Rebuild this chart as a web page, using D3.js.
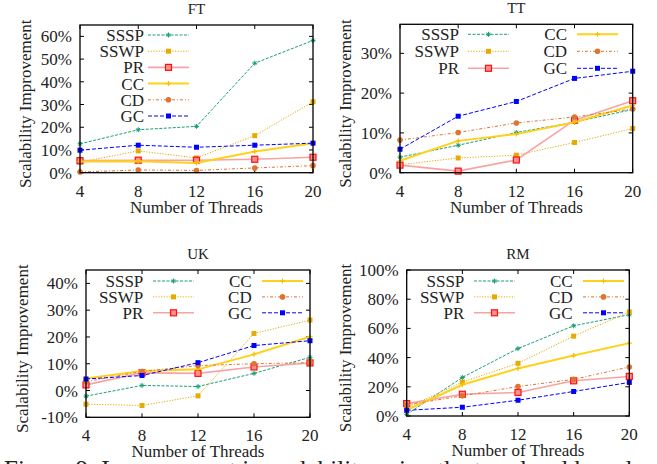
<!DOCTYPE html>
<html>
<head>
<meta charset="utf-8">
<script src="https://cdn.jsdelivr.net/npm/d3@7"></script>
<style>
body { margin: 0; overflow: hidden; background: #fff; }
svg text { font-family: "Liberation Serif", serif; fill: #222; }
</style>
</head>
<body>
<div id="chart"></div>
<script>
var width = 657,
	height = 464;

// data
var threads = [4, 8, 12, 16, 20];
var seriesNames = ['SSSP', 'SSWP', 'PR', 'CC', 'CD', 'GC'];

// values in %, series order as seriesNames
var ftValues = [
	[12.7, 18.9, 20.4, 48.2, 58.2],
	[4.6, 9.6, 6.5, 16.3, 31.2],
	[5.3, 5.5, 5.5, 5.9, 6.8],
	[4.9, 5.0, 4.3, 9.3, 13.0],
	[0.3, 1.2, 1.0, 2.1, 3.1],
	[9.9, 12.1, 11.2, 12.1, 13.0]
];
var ttValues = [
	[3.9, 6.9, 10.1, 12.7, 15.9],
	[2.0, 3.7, 4.4, 7.6, 11.1],
	[1.9, 0.4, 3.2, 13.2, 18.1],
	[3.0, 8.0, 9.7, 12.7, 16.9],
	[8.2, 10.1, 12.5, 14.0, 16.0],
	[5.9, 14.2, 17.9, 23.7, 25.5]
];
var ukValues = [
	[-2.1, 1.9, 1.5, 6.4, 12.4],
	[-5.1, -5.6, -2.0, 21.3, 26.3],
	[2.1, 6.6, 6.4, 8.8, 10.3],
	[4.5, 7.3, 7.9, 13.5, 20.1],
	[3.3, 7.1, 9.3, 10.0, 10.4],
	[4.3, 5.6, 10.4, 16.8, 18.6]
];
var rmValues = [
	[1.1, 26.4, 46.2, 61.8, 69.4],
	[5.7, 23.2, 36.1, 54.7, 71.3],
	[8.5, 14.9, 16.1, 24.1, 27.1],
	[4.1, 21.4, 32.6, 41.4, 49.9],
	[7.6, 13.8, 20.2, 25.1, 33.6],
	[3.9, 6.0, 10.8, 16.8, 23.0]
];

var ftTicks = [0, 10, 20, 30, 40, 50, 60];
var ttTicks = [0, 10, 20, 30];
var ukTicks = [-10, 0, 10, 20, 30, 40];
var rmTicks = [0, 20, 40, 60, 80, 100];

// styles per series
var styles = [
	{ color: '#1b9e77', dash: '3,1.5', w: 1, marker: 'star' },
	{ color: '#e6ab02', dash: '1.2,1.5', w: 1, marker: 'square' },
	{ color: '#f7a3a3', dash: null, w: 1.6, marker: 'opensquare' },
	{ color: '#ffd11a', dash: null, w: 2, marker: 'plus' },
	{ color: '#dd7530', dash: '3,2,1,2', w: 1, marker: 'circle' },
	{ color: '#0000ff', dash: '4,2', w: 1, marker: 'bsquare' }
];

var panels = [
	{ title: 'FT', values: ftValues, ticks: ftTicks, domain: [0, 65],
		x0: 80, x1: 313, y0: 25, y1: 172.7, ylab: 25, cols: 1,
		legX: [144], sampX: [148], legY: 35, legStep: 16.2 },
	{ title: 'TT', values: ttValues, ticks: ttTicks, domain: [0, 37.3],
		x0: 400, x1: 632.7, y0: 24.3, y1: 172.7, ylab: 345, cols: 2,
		legX: [459, 567], sampX: [468, 577], legY: 34.3, legStep: 17 },
	{ title: 'UK', values: ukValues, ticks: ukTicks, domain: [-10, 45],
		x0: 86, x1: 310, y0: 270, y1: 417.3, ylab: 21.7, cols: 2,
		legX: [143.3, 251.7], sampX: [153, 262], legY: 281, legStep: 15.9 },
	{ title: 'RM', values: rmValues, ticks: rmTicks, domain: [0, 100],
		x0: 406.7, x1: 629.3, y0: 270, y1: 416, ylab: 345, cols: 2,
		legX: [464.3, 572.7], sampX: [474, 583], legY: 281, legStep: 15.9 }
];

var svg = d3.select('#chart').append('svg')
	.attr('width', width)
	.attr('height', height);

function drawMarker(g, type, color, x, y) {
	if (type == 'star') {
		var s = 2.5;
		g.append('path')
			.attr('d', 'M' + (x - s) + ',' + y + 'h' + (2 * s) + 'M' + x + ',' + (y - s) + 'v' + (2 * s)
				+ 'M' + (x - s * 0.7) + ',' + (y - s * 0.7) + 'l' + (1.4 * s) + ',' + (1.4 * s)
				+ 'M' + (x - s * 0.7) + ',' + (y + s * 0.7) + 'l' + (1.4 * s) + ',' + (-1.4 * s))
			.style('stroke', color).style('stroke-width', 1).style('fill', 'none');
	} else if (type == 'square' || type == 'bsquare') {
		g.append('rect')
			.attr('x', x - 2.5).attr('y', y - 2.5)
			.attr('width', 5).attr('height', 5)
			.style('fill', color);
	} else if (type == 'opensquare') {
		g.append('rect')
			.attr('x', x - 3).attr('y', y - 3)
			.attr('width', 6).attr('height', 6)
			.style('fill', '#ff9090')
			.style('stroke', '#ff1010').style('stroke-width', 1.2);
	} else if (type == 'plus') {
		g.append('path')
			.attr('d', 'M' + (x - 2.5) + ',' + y + 'h5M' + x + ',' + (y - 2.5) + 'v5')
			.style('stroke', '#f2c200').style('stroke-width', 1.2);
	} else if (type == 'circle') {
		g.append('circle')
			.attr('cx', x).attr('cy', y).attr('r', 2.8)
			.style('fill', color);
	}
}

panels.forEach(function(p) {
	var g = svg.append('g');

	var x = d3.scaleLinear().domain([4, 20]).range([p.x0, p.x1]);
	var y = d3.scaleLinear().domain(p.domain).range([p.y1, p.y0]);

	// ticks on all sides (inward, mirrored)
	var tl = 4;
	p.ticks.forEach(function(t) {
		g.append('line').attr('x1', p.x0).attr('x2', p.x0 + tl)
			.attr('y1', y(t)).attr('y2', y(t)).style('stroke', '#000');
		g.append('line').attr('x1', p.x1).attr('x2', p.x1 - tl)
			.attr('y1', y(t)).attr('y2', y(t)).style('stroke', '#000');
		g.append('text')
			.attr('x', p.x0 - 8).attr('y', y(t) + 6)
			.attr('text-anchor', 'end')
			.style('font-size', '17px')
			.text(t + '%');
	});
	threads.forEach(function(t) {
		g.append('line').attr('x1', x(t)).attr('x2', x(t))
			.attr('y1', p.y1).attr('y2', p.y1 - tl).style('stroke', '#000');
		g.append('line').attr('x1', x(t)).attr('x2', x(t))
			.attr('y1', p.y0).attr('y2', p.y0 + tl).style('stroke', '#000');
		g.append('text')
			.attr('x', x(t)).attr('y', p.y1 + 24)
			.attr('text-anchor', 'middle')
			.style('font-size', '17px')
			.text(t);
	});

	// series lines
	var line = d3.line()
		.x(function(d, i) { return x(threads[i]); })
		.y(function(d) { return y(d); });

	p.values.forEach(function(vals, si) {
		var st = styles[si];
		g.append('path')
			.datum(vals)
			.attr('d', line)
			.style('fill', 'none')
			.style('stroke', st.color)
			.style('stroke-width', st.w)
			.style('stroke-dasharray', st.dash);
		vals.forEach(function(v, i) {
			drawMarker(g, st.marker, st.color, x(threads[i]), y(v));
		});
	});

	// legend
	seriesNames.forEach(function(name, si) {
		var st = styles[si];
		var col = p.cols == 1 ? 0 : Math.floor(si / 3);
		var row = p.cols == 1 ? si : si % 3;
		var lx = p.legX[col];
		var sx = p.sampX[col];
		var ly = p.legY + row * p.legStep;
		g.append('text')
			.attr('x', lx).attr('y', ly + 6)
			.attr('text-anchor', 'end')
			.style('font-size', '17px')
			.text(name);
		g.append('line')
			.attr('x1', sx).attr('x2', sx + 41)
			.attr('y1', ly).attr('y2', ly)
			.style('stroke', st.color)
			.style('stroke-width', st.w)
			.style('stroke-dasharray', st.dash);
		drawMarker(g, st.marker, st.color, sx + 20.5, ly);
	});

	// border
	g.append('rect')
		.attr('x', p.x0).attr('y', p.y0)
		.attr('width', p.x1 - p.x0).attr('height', p.y1 - p.y0)
		.style('fill', 'none')
		.style('stroke', '#000')
		.style('stroke-width', 1.3);

	// titles
	g.append('text')
		.attr('x', (p.x0 + p.x1) / 2).attr('y', p.y0 - 11)
		.attr('text-anchor', 'middle')
		.style('font-size', '15px')
		.text(p.title);
	g.append('text')
		.attr('x', (p.x0 + p.x1) / 2).attr('y', p.y1 + 40)
		.attr('text-anchor', 'middle')
		.style('font-size', '17px')
		.text('Number of Threads');
	g.append('text')
		.attr('transform', 'translate(' + (p.ylab + 6) + ',' + ((p.y0 + p.y1) / 2 + 5) + ') rotate(-90)')
		.attr('text-anchor', 'middle')
		.style('font-size', '17px')
		.text('Scalability Improvement');
});

// caption, cut off by the bottom edge
svg.append('text')
	.attr('x', 4).attr('y', 478)
	.style('font-size', '25px')
	.text('Figure 9: Improvement in scalability using the two-level based');
</script>
</body>
</html>
